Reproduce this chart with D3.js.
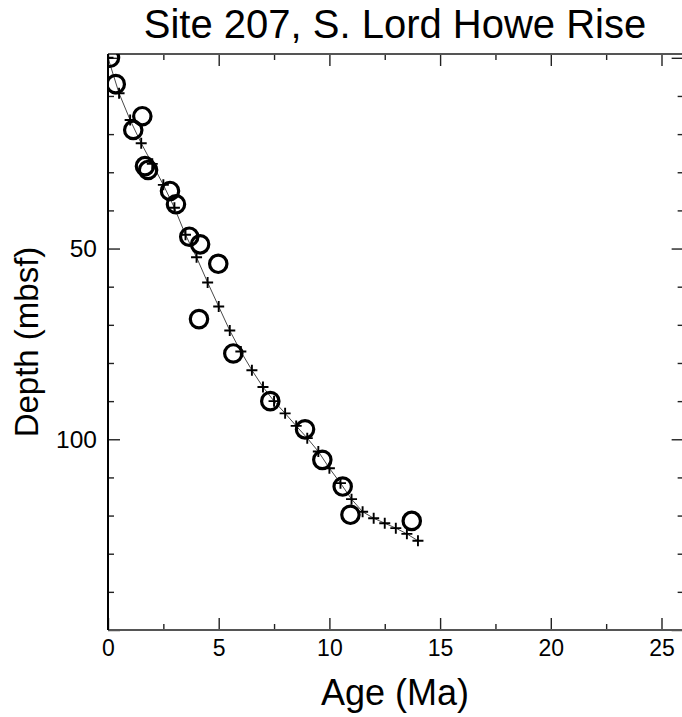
<!DOCTYPE html>
<html>
<head>
<meta charset="utf-8">
<script src="https://cdn.jsdelivr.net/npm/d3@7"></script>
<style>
  body { margin: 0; background: #fff; }
  text { font-family: "Liberation Sans", Arial, Helvetica, sans-serif; fill: #000; }
</style>
</head>
<body>
<svg id="chart" width="682" height="717"></svg>
<script>
/*************************Data********************* */
// observed datums (circles)
const obsAge = [0.09, 0.35, 1.55, 1.14, 1.67, 1.81, 2.8, 3.07, 3.67, 4.16, 4.98, 4.11, 5.66, 7.33, 8.9, 9.68, 10.6, 10.95, 13.72];
const obsDepth = [0, 6.9, 15.3, 18.9, 28.4, 29.4, 34.9, 38.4, 46.9, 48.9, 54, 68.5, 77.5, 90, 97.4, 105.4, 112.4, 119.8, 121.4];
// age model (line + plus markers)
const modelAge = [0, 0.5, 1, 1.5, 2, 2.5, 3, 3.5, 4, 4.5, 5, 5.5, 6, 6.5, 7, 7.5, 8, 8.5, 9, 9.5, 10, 10.5, 11, 11.5, 12, 12.5, 13, 13.5, 14];
const modelDepth = [0, 9.3, 16.3, 22.4, 27.8, 33.3, 39.3, 46.4, 52.3, 58.9, 65.2, 71.5, 77, 81.9, 86.3, 90, 93.2, 96.5, 99.7, 103.2, 107.6, 111.5, 115.7, 119, 120.7, 122, 123.3, 124.8, 126.6];
// ticks
const xMajorTicks = [0, 5, 10, 15, 20, 25];
const xMinorTicks = [2.5, 7.5, 12.5, 17.5, 22.5];
const yMajorTicks = [0, 50, 100, 150];
const yMinorTicks = [10, 20, 30, 40, 60, 70, 80, 90, 110, 120, 130, 140];
const yLabelled = [50, 100];

/*************************Scales********************* */
const svg = d3.select("svg#chart");
const plotLeft = 108, plotTop = 54, plotBottom = 630;
const pxPerMa = 22.14;
const scaleX = d3.scaleLinear().domain([0, 26]).range([plotLeft, plotLeft + 26 * pxPerMa]);
const scaleY = d3.scaleLinear().domain([-1, 150]).range([plotTop, plotBottom]);
const plotRight = scaleX(26);

svg.append("defs").append("clipPath").attr("id", "plotclip")
  .append("rect")
  .attr("x", plotLeft).attr("y", plotTop)
  .attr("width", plotRight - plotLeft).attr("height", plotBottom - plotTop);

/*************************Axes********************* */
const axisColor = "#222";
const styleAxis = (g, w) => {
  g.select(".domain").remove();
  g.selectAll(".tick line").attr("stroke", axisColor).attr("stroke-width", w);
};

// bottom
svg.append("g").attr("transform", `translate(0,${plotBottom})`)
  .call(d3.axisBottom(scaleX).tickValues(xMajorTicks).tickSize(-12).tickPadding(10).tickFormat(d3.format("d")))
  .call((g) => styleAxis(g, 1.4))
  .selectAll("text").attr("font-size", 23);
svg.append("g").attr("transform", `translate(0,${plotBottom})`)
  .call(d3.axisBottom(scaleX).tickValues(xMinorTicks).tickSize(-6).tickFormat(""))
  .call((g) => styleAxis(g, 1.4));
// top
svg.append("g").attr("transform", `translate(0,${plotTop})`)
  .call(d3.axisTop(scaleX).tickValues(xMajorTicks).tickSize(-12).tickFormat(""))
  .call((g) => styleAxis(g, 1.4));
svg.append("g").attr("transform", `translate(0,${plotTop})`)
  .call(d3.axisTop(scaleX).tickValues(xMinorTicks).tickSize(-6).tickFormat(""))
  .call((g) => styleAxis(g, 1.4));
// left
svg.append("g").attr("transform", `translate(${plotLeft},0)`)
  .call(d3.axisLeft(scaleY).tickValues(yMajorTicks).tickSize(-12).tickPadding(11)
    .tickFormat((d) => (yLabelled.includes(d) ? d : "")))
  .call((g) => styleAxis(g, 1.4))
  .selectAll("text").attr("font-size", 24.5);
svg.append("g").attr("transform", `translate(${plotLeft},0)`)
  .call(d3.axisLeft(scaleY).tickValues(yMinorTicks).tickSize(-6).tickFormat(""))
  .call((g) => styleAxis(g, 1.4));
// right
svg.append("g").attr("transform", `translate(${plotRight},0)`)
  .call(d3.axisRight(scaleY).tickValues(yMajorTicks).tickSize(-12).tickFormat(""))
  .call((g) => styleAxis(g, 1.4));
svg.append("g").attr("transform", `translate(${plotRight},0)`)
  .call(d3.axisRight(scaleY).tickValues(yMinorTicks).tickSize(-6).tickFormat(""))
  .call((g) => styleAxis(g, 1.4));

// frame
svg.append("line").attr("x1", plotLeft).attr("x2", plotRight).attr("y1", plotTop).attr("y2", plotTop)
  .attr("stroke", "#555").attr("stroke-width", 1.8);
svg.append("line").attr("x1", plotLeft).attr("x2", plotRight).attr("y1", plotBottom).attr("y2", plotBottom)
  .attr("stroke", "#555").attr("stroke-width", 1.8);
svg.append("line").attr("x1", plotLeft).attr("x2", plotLeft).attr("y1", plotTop).attr("y2", plotBottom)
  .attr("stroke", "#000").attr("stroke-width", 2);

/*************************Marks********************* */
const plot = svg.append("g").attr("clip-path", "url(#plotclip)");

const line = d3.line().x((d) => scaleX(d[0])).y((d) => scaleY(d[1]));
plot.append("path")
  .datum(d3.zip(modelAge, modelDepth))
  .attr("d", line)
  .attr("fill", "none")
  .attr("stroke", "#333")
  .attr("stroke-width", 0.9);

plot.selectAll("path.plus")
  .data(d3.zip(modelAge, modelDepth))
  .join("path")
  .attr("class", "plus")
  .attr("d", (d) => {
    const x = scaleX(d[0]), y = scaleY(d[1]), s = 5.5;
    return `M${x - s},${y}H${x + s}M${x},${y - s}V${y + s}`;
  })
  .attr("stroke", "#000")
  .attr("stroke-width", 1.9)
  .attr("fill", "none");

plot.selectAll("circle.obs")
  .data(d3.zip(obsAge, obsDepth))
  .join("circle")
  .attr("class", "obs")
  .attr("cx", (d) => scaleX(d[0]))
  .attr("cy", (d) => scaleY(d[1]))
  .attr("r", 8.7)
  .attr("fill", "none")
  .attr("stroke", "#000")
  .attr("stroke-width", 3.2);

/*************************Titles********************* */
svg.append("text").text("Site 207, S. Lord Howe Rise")
  .attr("x", 395).attr("y", 38).attr("text-anchor", "middle").attr("font-size", 40);
svg.append("text").text("Age (Ma)")
  .attr("x", 395).attr("y", 705).attr("text-anchor", "middle").attr("font-size", 36);
svg.append("text").text("Depth (mbsf)")
  .attr("transform", "translate(38,342) rotate(-90)").attr("text-anchor", "middle").attr("font-size", 33);
</script>
</body>
</html>
